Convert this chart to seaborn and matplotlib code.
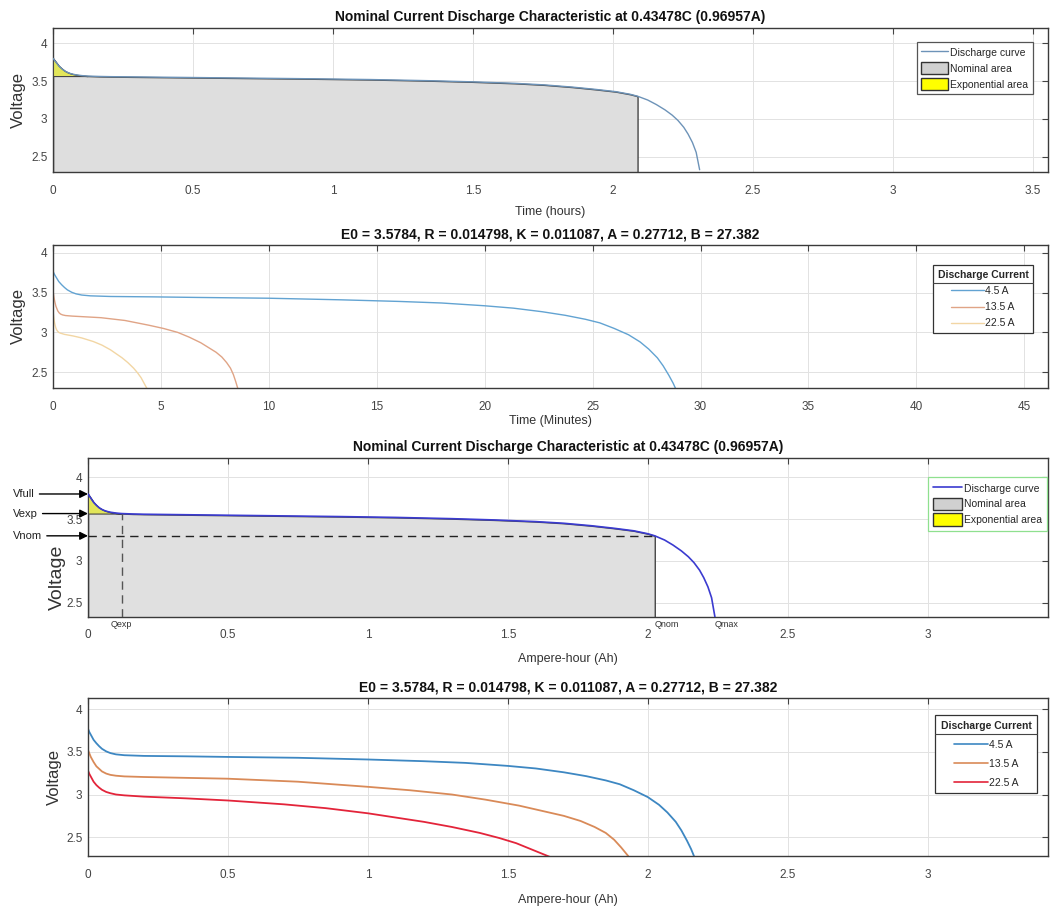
import numpy as np
import pandas as pd
import matplotlib
matplotlib.use("Agg")
import matplotlib.pyplot as plt
import seaborn as sns
from matplotlib.lines import Line2D
from matplotlib.patches import Patch

# ---------------- data ----------------
nominal_current = 0.96957          # A, used to turn Ah into hours
nom_ah = [0, 0.005, 0.01, 0.02, 0.03, 0.04, 0.05, 0.06, 0.07, 0.08, 0.1, 0.12, 0.16, 0.2,
          0.35, 0.5, 0.7, 0.9, 1.1, 1.3, 1.45, 1.6, 1.7, 1.8, 1.88, 1.95, 2.0, 2.025,
          2.06, 2.09, 2.12, 2.145, 2.165, 2.185, 2.2, 2.215, 2.228, 2.24]
nom_v = [3.80, 3.775, 3.75, 3.70, 3.665, 3.635, 3.615, 3.60, 3.59, 3.582, 3.572, 3.566,
         3.561, 3.558, 3.552, 3.546, 3.538, 3.53, 3.52, 3.505, 3.49, 3.47, 3.45, 3.42,
         3.39, 3.36, 3.325, 3.30, 3.25, 3.19, 3.12, 3.05, 2.98, 2.89, 2.80, 2.69, 2.56,
         2.33]
q_exp, v_exp = 0.12, 3.566
q_nom, v_nom = 2.025, 3.30
v_full = 3.80
q_max = 2.24

current_labels = ["4.5 A", "13.5 A", "22.5 A"]
current_values = [4.5, 13.5, 22.5]
ah_45 = [0, 0.005, 0.01, 0.02, 0.03, 0.04, 0.05, 0.065, 0.08, 0.1, 0.13, 0.2, 0.35, 0.5,
         0.75, 1.0, 1.2, 1.35, 1.5, 1.6, 1.7, 1.78, 1.85, 1.9, 1.95, 2.0, 2.04, 2.07, 2.1,
         2.12, 2.14, 2.155, 2.165]
v_45 = [3.77, 3.73, 3.70, 3.64, 3.60, 3.565, 3.535, 3.505, 3.485, 3.47, 3.46, 3.452, 3.447,
        3.44, 3.43, 3.41, 3.39, 3.37, 3.335, 3.305, 3.26, 3.215, 3.165, 3.12, 3.05, 2.97,
        2.88, 2.79, 2.68, 2.58, 2.46, 2.36, 2.28]
ah_135 = [0, 0.005, 0.01, 0.02, 0.03, 0.04, 0.05, 0.065, 0.08, 0.1, 0.13, 0.2, 0.35, 0.5,
          0.75, 1.0, 1.15, 1.3, 1.42, 1.54, 1.62, 1.7, 1.76, 1.81, 1.85, 1.88, 1.905, 1.93]
v_135 = [3.52, 3.48, 3.44, 3.38, 3.33, 3.30, 3.27, 3.245, 3.23, 3.22, 3.212, 3.205, 3.195,
         3.185, 3.15, 3.09, 3.05, 3.00, 2.94, 2.87, 2.81, 2.75, 2.69, 2.62, 2.55, 2.47,
         2.38, 2.28]
ah_225 = [0, 0.005, 0.01, 0.02, 0.03, 0.04, 0.05, 0.065, 0.08, 0.1, 0.13, 0.2, 0.35, 0.5,
          0.7, 0.85, 1.0, 1.1, 1.2, 1.3, 1.4, 1.47, 1.53, 1.59, 1.65]
v_225 = [3.28, 3.24, 3.21, 3.15, 3.11, 3.08, 3.055, 3.03, 3.015, 3.00, 2.99, 2.975, 2.955,
         2.93, 2.885, 2.84, 2.78, 2.73, 2.68, 2.62, 2.55, 2.49, 2.43, 2.35, 2.27]

title_nominal = "Nominal Current Discharge Characteristic at 0.43478C (0.96957A)"
title_params = "E0 = 3.5784, R = 0.014798, K = 0.011087, A = 0.27712, B = 27.382"
hour_ticks = [0, 0.5, 1, 1.5, 2, 2.5, 3, 3.5]
minute_ticks = [0, 5, 10, 15, 20, 25, 30, 35, 40, 45]
ah_ticks = [0, 0.5, 1, 1.5, 2, 2.5, 3]
volt_ticks = [2.5, 3, 3.5, 4]

# ---------------- style ----------------
sns.set_theme(style="white")
plt.rcParams["font.family"] = ["Liberation Sans", "DejaVu Sans"]
plt.rcParams["axes.unicode_minus"] = False

W, H = 1051, 910
fig = plt.figure(figsize=(W / 100, H / 100), dpi=100)


def px_axes(l, t, r, b):
    return fig.add_axes([l / W, 1 - b / H, (r - l) / W, (b - t) / H])


def fmt(v):
    return "%g" % v


def style_axes(ax, xticks, xlim, ylim, title, xlabel, ylabel_size, ylabel_xy,
               xlabelpad=4):
    ax.set_xlim(*xlim)
    ax.set_ylim(*ylim)
    ax.set_xticks(xticks)
    ax.set_xticklabels([fmt(v) for v in xticks])
    ax.set_yticks(volt_ticks)
    ax.set_yticklabels([fmt(v) for v in volt_ticks])
    ax.grid(True, color="#e2e2e2", linewidth=0.7)
    ax.set_axisbelow(True)
    ax.tick_params(direction="in", length=4, width=0.8, top=True, right=True,
                   labelsize=8.5, labelcolor="#444444", color="#444444")
    ax.tick_params(axis="x", pad=9)
    ax.tick_params(axis="y", pad=4)
    for s in ax.spines.values():
        s.set_color("#3a3a3a")
        s.set_linewidth(1.0)
    ax.set_title(title, fontsize=10, fontweight="bold", pad=5, color="#111111")
    ax.set_xlabel(xlabel, fontsize=9, color="#333333", labelpad=xlabelpad)
    ax.set_ylabel("Voltage", fontsize=ylabel_size, color="#333333")
    ax.yaxis.set_label_coords(*ylabel_xy)


def legend_box(ax, handles, labels, anchor, edge, **kw):
    leg = ax.legend(handles, labels, loc="upper right", bbox_to_anchor=anchor,
                    borderaxespad=0, frameon=True, fancybox=False, framealpha=1,
                    edgecolor=edge, **kw)
    leg.get_frame().set_linewidth(0.9)
    return leg


nom_ah_a = np.array(nom_ah)
nom_v_a = np.array(nom_v)
nom_mask = nom_ah_a <= q_nom + 1e-9
exp_mask = nom_ah_a <= q_exp + 1e-9
area_labels = ["Discharge curve", "Nominal area", "Exponential area"]

# ---------------- panel 1 : nominal curve vs hours ----------------
ax1 = px_axes(53, 28, 1048, 172)
hours = nom_ah_a / nominal_current
ax1.fill_between(hours[nom_mask], nom_v_a[nom_mask], 1.0, facecolor="#dedede",
                 edgecolor="#454545", linewidth=1.0, zorder=2)
ax1.fill_between(hours[exp_mask], nom_v_a[exp_mask], v_exp, facecolor="#e2e65a",
                 edgecolor="#454545", linewidth=0.8, zorder=3)
sns.lineplot(x=hours, y=nom_v_a, ax=ax1, color="#6d93b8", linewidth=1.0,
             sort=False, estimator=None, zorder=4)
style_axes(ax1, hour_ticks, (0, 3.555), (2.3, 4.2), title_nominal, "Time (hours)",
           12, (-0.027, 0.5), xlabelpad=7)
h1 = [Line2D([], [], color="#6d93b8", lw=1.0),
      Patch(facecolor="#d0d0d0", edgecolor="#333333", lw=1.0),
      Patch(facecolor="#ffff00", edgecolor="#333333", lw=1.0)]
legend_box(ax1, h1, area_labels, (0.985, 0.905), "#555555", fontsize=7.5,
           handlelength=2.6, handleheight=1.3, handletextpad=0.2, borderpad=0.45,
           labelspacing=0.45)

# ---------------- panel 2 : three currents vs minutes ----------------
ax2 = px_axes(53, 245, 1048, 388)
frames = []
for lab, cur, a, v in zip(current_labels, current_values,
                          [ah_45, ah_135, ah_225], [v_45, v_135, v_225]):
    frames.append(pd.DataFrame({"minutes": np.array(a) * 60.0 / cur,
                                "ah": a, "voltage": v, "current": lab}))
df = pd.concat(frames, ignore_index=True)
pal2 = {"4.5 A": "#62a3d2", "13.5 A": "#e0a486", "22.5 A": "#f2d6a4"}
sns.lineplot(data=df, x="minutes", y="voltage", hue="current", ax=ax2, palette=pal2,
             sort=False, estimator=None, linewidth=1.0, legend=False)
style_axes(ax2, minute_ticks, (0, 46.1), (2.3, 4.1), title_params, "Time (Minutes)",
           12, (-0.027, 0.5), xlabelpad=2)
h2 = [Line2D([], [], color=pal2[k], lw=1.0) for k in current_labels]
leg2 = legend_box(ax2, h2, current_labels, (0.985, 0.86), "#333333",
                  title="Discharge Current", fontsize=7.5,
                  title_fontproperties={"weight": "bold", "size": 7.5},
                  handlelength=3.2, handletextpad=0.1, borderpad=0.45,
                  labelspacing=0.6)

# ---------------- panel 3 : nominal curve vs Ah with markers ----------------
ax3 = px_axes(88, 458, 1048, 617)
ax3.fill_between(nom_ah_a[nom_mask], nom_v_a[nom_mask], 1.0, facecolor="#e0e0e0",
                 edgecolor="#454545", linewidth=1.0, zorder=2)
ax3.fill_between(nom_ah_a[exp_mask], nom_v_a[exp_mask], v_exp, facecolor="#e2e65a",
                 edgecolor="#454545", linewidth=0.8, zorder=3)
sns.lineplot(x=nom_ah_a, y=nom_v_a, ax=ax3, color="#3b3bd0", linewidth=1.2,
             sort=False, estimator=None, zorder=4)
style_axes(ax3, ah_ticks, (0, 3.43), (2.33, 4.23), title_nominal, "Ampere-hour (Ah)",
           14, (-0.023, 0.25), xlabelpad=8)
ax3.plot([0, q_nom], [v_nom, v_nom], color="#222222", lw=1.0, ls=(0, (6, 4)), zorder=5)
ax3.plot([q_exp, q_exp], [2.33, v_exp], color="#555555", lw=1.0, ls=(0, (6, 4)), zorder=5)
for lab, val in [("Vfull", v_full), ("Vexp", v_exp), ("Vnom", v_nom)]:
    ax3.annotate(lab, xy=(0, val), xycoords=("axes fraction", "data"),
                 xytext=(-54, 0), textcoords="offset points", ha="left", va="center",
                 fontsize=8, color="#222222", annotation_clip=False,
                 arrowprops=dict(arrowstyle="-|>", color="black", lw=1.0,
                                 mutation_scale=12, shrinkA=1, shrinkB=0))
for lab, q, ha in [("Qexp", q_exp, "center"), ("Qnom", q_nom, "left"),
                   ("Qmax", q_max, "left")]:
    ax3.annotate(lab, xy=(q, 0), xycoords=("data", "axes fraction"),
                 xytext=(0, -2), textcoords="offset points", ha=ha, va="top",
                 fontsize=6.5, color="#333333", annotation_clip=False)
h3 = [Line2D([], [], color="#3b3bd0", lw=1.2),
      Patch(facecolor="#d0d0d0", edgecolor="#333333", lw=1.0),
      Patch(facecolor="#ffff00", edgecolor="#333333", lw=1.0)]
legend_box(ax3, h3, area_labels, (0.999, 0.88), "#8fe08f", fontsize=7.5,
           handlelength=2.8, handleheight=1.5, handletextpad=0.2, borderpad=0.45,
           labelspacing=0.3)

# ---------------- panel 4 : three currents vs Ah ----------------
ax4 = px_axes(88, 698, 1048, 856)
pal4 = {"4.5 A": "#3d87c2", "13.5 A": "#d98a58", "22.5 A": "#e3243a"}
sns.lineplot(data=df, x="ah", y="voltage", hue="current", ax=ax4, palette=pal4,
             sort=False, estimator=None, linewidth=1.3, legend=False)
style_axes(ax4, ah_ticks, (0, 3.43), (2.28, 4.13), title_params, "Ampere-hour (Ah)",
           12, (-0.027, 0.5), xlabelpad=10)
h4 = [Line2D([], [], color=pal4[k], lw=1.2) for k in current_labels]
leg4 = legend_box(ax4, h4, current_labels, (0.989, 0.89), "#333333",
                  title="Discharge Current", fontsize=7.5,
                  title_fontproperties={"weight": "bold", "size": 7.5},
                  handlelength=3.2, handletextpad=0.1, borderpad=0.55,
                  labelspacing=0.85)

# rule under legend titles
fig.canvas.draw()
renderer = fig.canvas.get_renderer()
inv = fig.transFigure.inverted()
for leg in (leg2, leg4):
    fb = leg.get_frame().get_window_extent(renderer)
    tb = leg.get_title().get_window_extent(renderer)
    y = tb.y0 - 3
    (x0, yy), (x1, _) = inv.transform([(fb.x0, y), (fb.x1, y)])
    fig.add_artist(Line2D([x0, x1], [yy, yy], color="#444444", lw=0.8))

fig.savefig("out.png", dpi=100, facecolor="white")
